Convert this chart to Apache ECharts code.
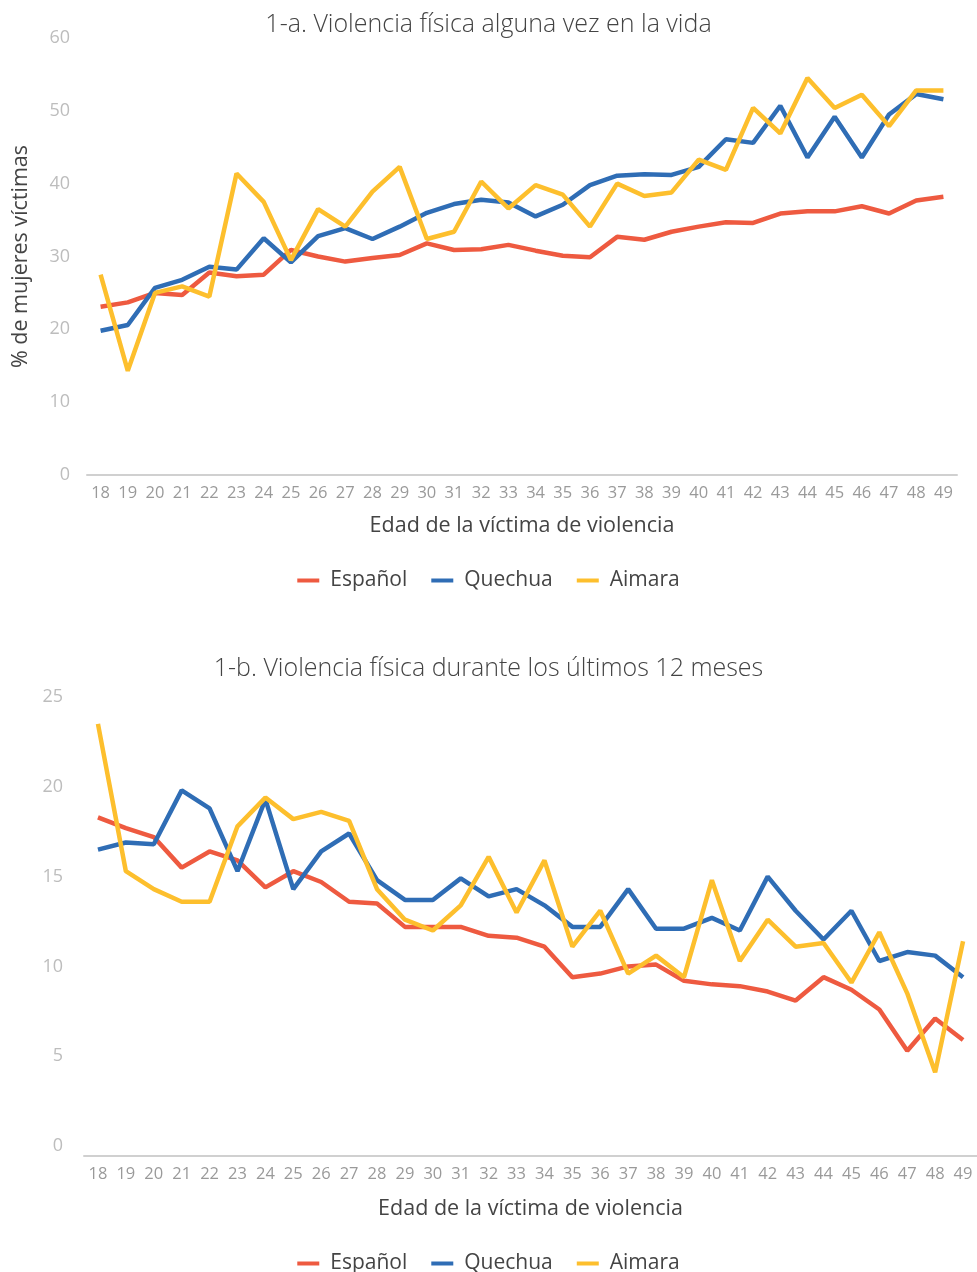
<!DOCTYPE html>
<html>
<head>
<meta charset="utf-8">
<script src="https://cdn.jsdelivr.net/npm/echarts@6/dist/echarts.min.js"></script>
<style>
html,body{margin:0;padding:0;background:#fff;}
#chart{width:977px;height:1272px;}
</style>
</head>
<body>
<div id="chart"></div>
<script>
var ages = ['18','19','20','21','22','23','24','25','26','27','28','29','30','31','32','33','34','35','36','37','38','39','40','41','42','43','44','45','46','47','48','49'];
var seriesNames = ['Español','Quechua','Aimara'];

// 1-a. Violencia física alguna vez en la vida
var espanolVida = [23.1,23.7,25.0,24.7,27.8,27.3,27.5,30.9,30.0,29.3,29.8,30.2,31.8,30.9,31.0,31.6,30.8,30.1,29.9,32.7,32.3,33.4,34.1,34.7,34.6,35.9,36.2,36.2,36.9,35.9,37.7,38.2];
var quechuaVida = [19.8,20.6,25.7,26.8,28.6,28.2,32.5,29.2,32.8,33.9,32.4,34.1,36.0,37.2,37.8,37.4,35.5,37.1,39.8,41.1,41.3,41.2,42.3,46.1,45.6,50.7,43.6,49.2,43.6,49.5,52.3,51.6];
var aimaraVida = [27.5,14.3,25.0,25.9,24.5,41.4,37.5,29.5,36.5,34.1,38.9,42.3,32.4,33.4,40.3,36.6,39.8,38.5,34.1,40.0,38.3,38.8,43.3,41.9,50.4,46.9,54.5,50.4,52.2,47.9,52.8,52.8];

// 1-b. Violencia física durante los últimos 12 meses
var espanol12 = [18.3,17.7,17.2,15.5,16.4,15.9,14.4,15.3,14.7,13.6,13.5,12.2,12.2,12.2,11.7,11.6,11.1,9.4,9.6,10.0,10.1,9.2,9.0,8.9,8.6,8.1,9.4,8.7,7.6,5.3,7.1,5.9];
var quechua12 = [16.5,16.9,16.8,19.8,18.8,15.3,19.3,14.3,16.4,17.4,14.8,13.7,13.7,14.9,13.9,14.3,13.4,12.2,12.2,14.3,12.1,12.1,12.7,12.0,15.0,13.1,11.5,13.1,10.3,10.8,10.6,9.4];
var aimara12 = [23.5,15.3,14.3,13.6,13.6,17.8,19.4,18.2,18.6,18.1,14.3,12.6,12.0,13.4,16.1,13.0,15.9,11.1,13.1,9.6,10.6,9.4,14.8,10.3,12.6,11.1,11.3,9.1,11.9,8.5,4.1,11.4];

var titles = ['1-a. Violencia física alguna vez en la vida','1-b. Violencia física durante los últimos 12 meses'];
var xName = 'Edad de la víctima de violencia';
var yName = '% de mujeres víctimas';

var colors = ['#EE5A40','#2F6DB5','#FDBF2D'];
var FONT = 'Open Sans';

function lineSeries(name, data, idx, color) {
  return {
    name: name, type: 'line', data: data,
    xAxisIndex: idx, yAxisIndex: idx,
    showSymbol: false, symbol: 'none',
    lineStyle: {width: 4.5, color: color},
    itemStyle: {color: color},
    emphasis: {disabled: true}
  };
}

var legendText = {fontFamily: FONT, fontSize: 21, color: '#444', padding: [0, 0, 0, 6]};

var chart = echarts.init(document.getElementById('chart'), null, {renderer: 'canvas'});
chart.setOption({
  animation: false,
  backgroundColor: '#fff',
  color: colors,
  title: [
    {text: titles[0], left: 'center', top: 7, textStyle: {fontFamily: FONT, fontSize: 25, fontWeight: 300, color: '#444'}},
    {text: titles[1], left: 'center', top: 651, textStyle: {fontFamily: FONT, fontSize: 25, fontWeight: 300, color: '#444'}}
  ],
  legend: [
    {data: seriesNames, left: 'center', top: 565, icon: 'rect', itemWidth: 22, itemHeight: 4, itemGap: 24,
     textStyle: legendText},
    {data: seriesNames.slice(), left: 'center', top: 1248, icon: 'rect', itemWidth: 22, itemHeight: 4, itemGap: 24,
     textStyle: legendText}
  ],
  grid: [
    {left: 87, width: 870, top: 38, height: 437},
    {left: 84, width: 894, top: 697, height: 449}
  ],
  xAxis: [
    {type: 'category', gridIndex: 0, data: ages, boundaryGap: true,
     axisLine: {lineStyle: {color: '#d0d0d0', width: 2}}, axisTick: {show: false},
     axisLabel: {fontFamily: FONT, fontSize: 16.5, color: '#9a9a9a', margin: 10, interval: 0},
     name: xName, nameLocation: 'middle', nameGap: 40,
     nameTextStyle: {fontFamily: FONT, fontSize: 21.5, color: '#444'}},
    {type: 'category', gridIndex: 1, data: ages, boundaryGap: true, offset: 10,
     axisLine: {onZero: false, lineStyle: {color: '#d0d0d0', width: 2}}, axisTick: {show: false},
     axisLabel: {fontFamily: FONT, fontSize: 16.5, color: '#9a9a9a', margin: 10, interval: 0},
     name: xName, nameLocation: 'middle', nameGap: 42,
     nameTextStyle: {fontFamily: FONT, fontSize: 21.5, color: '#444'}}
  ],
  yAxis: [
    {type: 'value', gridIndex: 0, min: 0, max: 60, interval: 10,
     axisLine: {show: false}, axisTick: {show: false}, splitLine: {show: false},
     axisLabel: {fontFamily: FONT, fontSize: 18, color: '#bdbdbd', margin: 17},
     name: yName, nameLocation: 'middle', nameGap: 55, nameRotate: 90,
     nameTextStyle: {fontFamily: FONT, fontSize: 21.5, color: '#444'}},
    {type: 'value', gridIndex: 1, min: 0, max: 25, interval: 5,
     axisLine: {show: false}, axisTick: {show: false}, splitLine: {show: false},
     axisLabel: {fontFamily: FONT, fontSize: 18, color: '#bdbdbd', margin: 21}}
  ],
  series: [
    lineSeries(seriesNames[0], espanolVida, 0, colors[0]),
    lineSeries(seriesNames[1], quechuaVida, 0, colors[1]),
    lineSeries(seriesNames[2], aimaraVida, 0, colors[2]),
    lineSeries(seriesNames[0], espanol12, 1, colors[0]),
    lineSeries(seriesNames[1], quechua12, 1, colors[1]),
    lineSeries(seriesNames[2], aimara12, 1, colors[2])
  ]
});
</script>
</body>
</html>
